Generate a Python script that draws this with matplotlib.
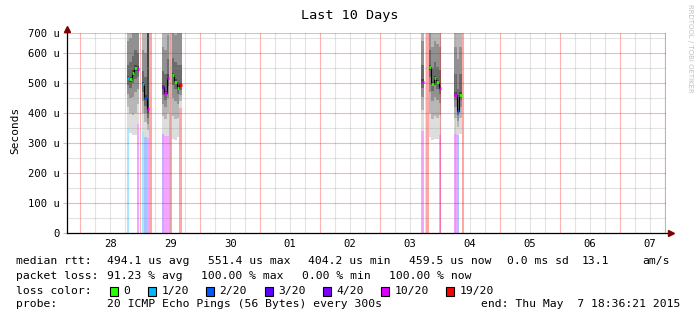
import matplotlib
matplotlib.use("Agg")
import matplotlib.pyplot as plt
from matplotlib.patches import Rectangle

W, H = 697, 321

# hours since Apr 28 00:00, each bin is one hour wide
bin_start = [18.6, 19.6, 20.6, 21.6, 22.6,
             24.6, 25.6, 26.6, 27.6,
             32.6, 33.6, 34.6, 35.6, 36.6, 37.6, 38.6, 39.6,
             136.6, 138.6, 139.6, 140.6, 141.6, 142.6, 143.6,
             149.8, 150.8, 151.8, 152.8]
loss = [1, 0, 0, 0, 10,
        1, 2, 10, 20,
        4, 10, 10, 20, 0, 0, 0, 19,
        10, 20, 0, 0, 0, 0, 10,
        10, 2, 0, 20]
median = [518, 513, 533, 550, 548,
          497, 451, 412, None,
          487, 467, 518, None, 527, 503, 483, 492,
          504, None, 552, 497, 517, 502, 482,
          461, 406, 461, None]
# sorted ping values (us), outer pair first
pings = [
    [350, 420, 465, 495, 512, 525, 560, 640, 760, 1000],
    [333, 400, 450, 485, 505, 520, 570, 650, 780, 1050],
    [327, 395, 455, 500, 525, 545, 590, 670, 800, 1100],
    [327, 400, 470, 515, 540, 560, 610, 690, 820, 1100],
    [363, 430, 480, 520, 540, 556, 600, 680, 800, 1000],
    [337, 400, 440, 470, 490, 505, 540, 610, 720, 950],
    [320, 370, 400, 425, 445, 460, 520, 600, 700, 900],
    [317, 345, 365, 385, 400, 700, 800, 900, 1000, 1100],
    None,
    [330, 390, 430, 460, 480, 495, 540, 620, 740, 1000],
    [325, 380, 420, 445, 462, 475, 530, 610, 720, 950],
    [325, 400, 450, 490, 510, 530, 580, 660, 790, 1050],
    None,
    [315, 390, 450, 495, 520, 535, 585, 670, 800, 1100],
    [310, 380, 440, 480, 498, 512, 570, 660, 790, 1100],
    [320, 385, 430, 462, 478, 492, 560, 680, 820, 1100],
    [417, 440, 460, 478, 488, 500, 560, 680, 820, 1000],
    [340, 410, 455, 485, 500, 512, 560, 640, 760, 1000],
    None,
    [320, 400, 470, 520, 545, 560, 610, 690, 820, 1100],
    [310, 380, 440, 475, 492, 505, 550, 620, 740, 1000],
    [315, 390, 455, 495, 512, 525, 570, 640, 760, 1000],
    [312, 385, 445, 480, 497, 510, 555, 630, 750, 1000],
    [327, 395, 435, 462, 478, 490, 545, 620, 740, 980],
    [330, 385, 420, 445, 457, 470, 530, 620, 740, 1000],
    [327, 355, 375, 392, 402, 415, 480, 580, 700, 950],
    [330, 385, 420, 445, 457, 470, 530, 620, 740, 1000],
    None,
]

loss_levels = [0, 1, 2, 3, 4, 10, 19]
loss_labels = ["0", "1/20", "2/20", "3/20", "4/20", "10/20", "19/20"]
loss_colors = ["#26ff00", "#00b8ff", "#0059ff", "#5e00ff", "#7e00ff", "#dd00ff", "#ff0000"]

day_labels = ["28", "29", "30", "01", "02", "03", "04", "05", "06", "07"]
y_ticks = [0, 100, 200, 300, 400, 500, 600]
y_top = 666.67

stats_rtt = ["494.1 us avg", "551.4 us max", "404.2 us min", "459.5 us now", "0.0 ms sd", "13.1", "am/s"]
stats_loss = ["91.23 % avg", "100.00 % max", "0.00 % min", "100.00 % now"]


def loss_color(n):
    c = loss_colors[0]
    for lv, col in zip(loss_levels, loss_colors):
        if n >= lv:
            c = col
    return c


plt.rcParams["font.family"] = ["DejaVu Sans Mono"]
fig = plt.figure(figsize=(W / 100, H / 100), dpi=100)
ax = fig.add_axes([67 / W, (H - 233) / H, 599 / W, 200 / H])
ax.set_xlim(-5.4, 234.6)
ax.set_ylim(0, y_top)

bw = 1.0
# loss background bars
for s, n in zip(bin_start, loss):
    if n > 0:
        ax.bar(s, y_top, width=bw, align="edge", color=loss_color(n), alpha=0.35,
               linewidth=0, zorder=1)

# smoke, shaded like smokeping's 20-ping bands (every other band)
for s, p in zip(bin_start, pings):
    if p is None:
        continue
    for i in range(5):
        g = int(190 / 10 * (10 - (2 * i + 1))) + 50
        ax.bar(s, p[9 - i] - p[i], bottom=p[i], width=bw, align="edge",
               color=(g / 255, g / 255, g / 255), linewidth=0, zorder=2)

# grid (drawn over the smoke like rrdtool)
for h in range(-6, 240, 6):
    if h % 24 != 0:
        ax.axvline(h, color="#909090", alpha=0.25, lw=0.8, zorder=3)
for h in range(0, 240, 24):
    ax.axvline(h, color="#ff0000", alpha=0.3, lw=0.8, zorder=3)
ax.axvline(234.0, color="#ff0000", alpha=0.3, lw=0.8, zorder=3)
for v in range(50, 700, 100):
    ax.axhline(v, color="#909090", alpha=0.25, lw=0.8, zorder=3)
for v in y_ticks[1:] + [y_top]:
    ax.axhline(v, color="#ff0000", alpha=0.3, lw=0.8, zorder=3)

# median: black connectors + coloured markers
for i in range(len(bin_start) - 1):
    a, b = median[i], median[i + 1]
    if a is not None and b is not None and abs(bin_start[i + 1] - bin_start[i] - bw) < 0.01:
        ax.plot([bin_start[i + 1]] * 2, [a, b], color="black", lw=0.8, zorder=4)
for s, n, m in zip(bin_start, loss, median):
    if m is not None:
        ax.hlines(m, s, s + bw, colors=loss_color(n), lw=2.0, zorder=5)

# axes
for sp in ["top", "right", "left", "bottom"]:
    ax.spines[sp].set_visible(False)
ax.plot([0, 0], [0, 1 + 4 / 200], color="black", lw=0.9, transform=ax.transAxes, clip_on=False, zorder=6)
ax.plot([0, 1 + 4 / 600], [0, 0], color="black", lw=0.9, transform=ax.transAxes, clip_on=False, zorder=6)
ax.plot([0], [1 + 4 / 200], marker="^", ms=4, color="#800000", mec="#800000",
        transform=ax.transAxes, clip_on=False, zorder=7)
ax.plot([1 + 5 / 600], [0], marker=">", ms=4, color="#800000", mec="#800000",
        transform=ax.transAxes, clip_on=False, zorder=7)

ax.set_xticks([12 + 24 * i for i in range(len(day_labels))])
ax.set_xticklabels(day_labels)
ax.set_yticks(y_ticks + [y_top])
ax.set_yticklabels(["0"] + ["%d u" % v for v in y_ticks[1:]] + ["700 u"])
ax.tick_params(axis="x", length=0, pad=4, labelsize=7.6)
ax.tick_params(axis="y", length=3, width=0.8, color="#f4b0b0", pad=2, labelsize=7.6)


def ftext(x, y, s, **kw):
    fig.text(x / W, 1 - y / H, s, **kw)


ftext(350, 16, "Last 10 Days", ha="center", va="center", fontsize=9.7)
ftext(15, 130, "Seconds", rotation=90, ha="center", va="center", fontsize=8)
ftext(690, 4, "RRDTOOL / TOBI OETIKER", rotation=270, ha="center", va="top",
      fontsize=5, color="#c0c0c0", family="DejaVu Sans")

fs = 8.2
ftext(16, 261, "median rtt:", va="center", fontsize=fs)
for x, s in zip([107, 208, 308, 409, 507, 582, 642], stats_rtt):
    ftext(x, 261, s, va="center", fontsize=fs)
ftext(16, 276, "packet loss:", va="center", fontsize=fs)
for x, s in zip([107, 201, 302, 389], stats_loss):
    ftext(x, 276, s, va="center", fontsize=fs)
ftext(16, 291, "loss color:", va="center", fontsize=fs)
for x, lab, col in zip([109.5, 147.5, 205.5, 264.5, 322.6, 380.7, 446], loss_labels, loss_colors):
    fig.add_artist(Rectangle((x / W, 1 - 295.5 / H), 8 / W, 9 / H, transform=fig.transFigure,
                             facecolor=col, edgecolor="black", lw=0.8))
    ftext(x + 14, 291, lab, va="center", fontsize=fs)
ftext(16, 304, "probe:", va="center", fontsize=fs)
ftext(107, 304, "20 ICMP Echo Pings (56 Bytes) every 300s", va="center", fontsize=fs)
ftext(481, 304, "end: Thu May  7 18:36:21 2015", va="center", fontsize=fs)

fig.savefig("out.png", dpi=100)
